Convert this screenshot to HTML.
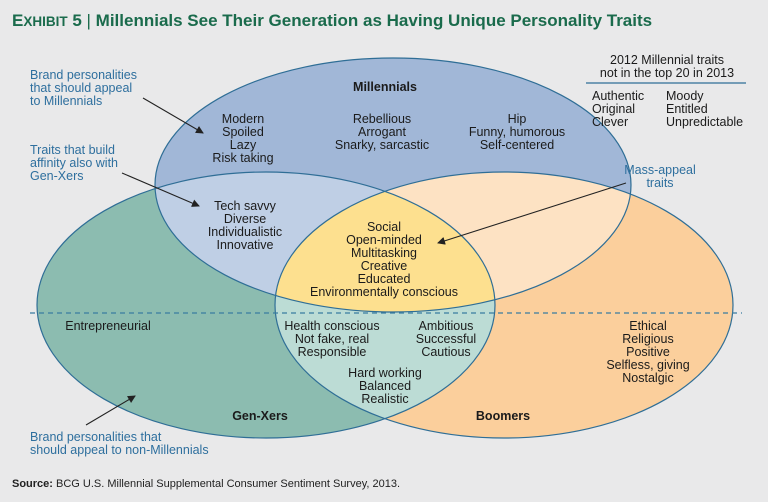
<!DOCTYPE html>
<html><head><meta charset="utf-8"><style>
body{margin:0;background:#e9e9ea;}
svg{display:block;font-family:"Liberation Sans",sans-serif;}
.t{font-size:12.5px;fill:#1b1b1b;text-anchor:middle;}
.b{font-size:12.5px;fill:#1b1b1b;font-weight:bold;text-anchor:middle;}
.c{font-size:12.5px;fill:#2e6f9e;}
</style></head><body>
<svg width="768" height="502" viewBox="0 0 768 502">
<defs>
<clipPath id="cm"><ellipse cx="393" cy="185" rx="238" ry="127"/></clipPath>
<clipPath id="cg"><ellipse cx="266" cy="305" rx="229" ry="133"/></clipPath>
<clipPath id="cb"><ellipse cx="504" cy="305" rx="229" ry="133"/></clipPath>
<marker id="ar" markerWidth="8" markerHeight="8" refX="7" refY="4" orient="auto" markerUnits="userSpaceOnUse"><path d="M0,0 L8,4 L0,8 z" fill="#222"/></marker>
</defs>
<rect width="768" height="502" fill="#e9e9ea"/>
<text x="12" y="26" font-size="17" font-weight="bold" fill="#1a6b4c"><tspan font-size="17">E</tspan><tspan font-size="13.5">XHIBIT</tspan> 5 <tspan font-weight="normal">|</tspan> Millennials See Their Generation as Having Unique Personality Traits</text>
<ellipse cx="266" cy="305" rx="229" ry="133" fill="#8cbcb0"/>
<ellipse cx="504" cy="305" rx="229" ry="133" fill="#fbcf9c"/>
<g clip-path="url(#cg)"><ellipse cx="504" cy="305" rx="229" ry="133" fill="#bcdcd5"/></g>
<ellipse cx="393" cy="185" rx="238" ry="127" fill="#a1b7d7"/>
<g clip-path="url(#cm)"><ellipse cx="266" cy="305" rx="229" ry="133" fill="#bfcfe5"/><ellipse cx="504" cy="305" rx="229" ry="133" fill="#fde2c3"/>
<g clip-path="url(#cg)"><ellipse cx="504" cy="305" rx="229" ry="133" fill="#fde08f"/></g></g>
<g fill="none" stroke="#2f6e96" stroke-width="1.2">
<ellipse cx="266" cy="305" rx="229" ry="133"/><ellipse cx="504" cy="305" rx="229" ry="133"/><ellipse cx="393" cy="185" rx="238" ry="127"/></g>
<line x1="30" y1="313" x2="742" y2="313" stroke="#3a7ca0" stroke-width="1.3" stroke-dasharray="5,4"/>
<text class="b" x="385" y="91">Millennials</text>
<text class="t"><tspan x="243" y="123">Modern</tspan><tspan x="243" y="136">Spoiled</tspan><tspan x="243" y="149">Lazy</tspan><tspan x="243" y="162">Risk taking</tspan></text>
<text class="t"><tspan x="382" y="123">Rebellious</tspan><tspan x="382" y="136">Arrogant</tspan><tspan x="382" y="149">Snarky, sarcastic</tspan></text>
<text class="t"><tspan x="517" y="123">Hip</tspan><tspan x="517" y="136">Funny, humorous</tspan><tspan x="517" y="149">Self-centered</tspan></text>
<text class="t"><tspan x="245" y="210">Tech savvy</tspan><tspan x="245" y="223">Diverse</tspan><tspan x="245" y="236">Individualistic</tspan><tspan x="245" y="249">Innovative</tspan></text>
<text class="t"><tspan x="384" y="231">Social</tspan><tspan x="384" y="244">Open-minded</tspan><tspan x="384" y="257">Multitasking</tspan><tspan x="384" y="270">Creative</tspan><tspan x="384" y="283">Educated</tspan><tspan x="384" y="296">Environmentally conscious</tspan></text>
<text class="t" x="108" y="330">Entrepreneurial</text>
<text class="t"><tspan x="332" y="330">Health conscious</tspan><tspan x="332" y="343">Not fake, real</tspan><tspan x="332" y="356">Responsible</tspan></text>
<text class="t"><tspan x="446" y="330">Ambitious</tspan><tspan x="446" y="343">Successful</tspan><tspan x="446" y="356">Cautious</tspan></text>
<text class="t"><tspan x="385" y="377">Hard working</tspan><tspan x="385" y="390">Balanced</tspan><tspan x="385" y="403">Realistic</tspan></text>
<text class="t"><tspan x="648" y="330">Ethical</tspan><tspan x="648" y="343">Religious</tspan><tspan x="648" y="356">Positive</tspan><tspan x="648" y="369">Selfless, giving</tspan><tspan x="648" y="382">Nostalgic</tspan></text>
<text class="b" x="260" y="420">Gen-Xers</text>
<text class="b" x="503" y="420">Boomers</text>
<text class="t"><tspan x="667" y="64">2012 Millennial traits</tspan><tspan x="667" y="77">not in the top 20 in 2013</tspan></text>
<line x1="586" y1="83" x2="746" y2="83" stroke="#2f6e96" stroke-width="1.2"/>
<text font-size="12.5" fill="#1b1b1b"><tspan x="592" y="100">Authentic</tspan><tspan x="592" y="113">Original</tspan><tspan x="592" y="126">Clever</tspan></text>
<text font-size="12.5" fill="#1b1b1b"><tspan x="666" y="100">Moody</tspan><tspan x="666" y="113">Entitled</tspan><tspan x="666" y="126">Unpredictable</tspan></text>
<text class="c"><tspan x="30" y="79">Brand personalities</tspan><tspan x="30" y="92">that should appeal</tspan><tspan x="30" y="105">to Millennials</tspan></text>
<text class="c"><tspan x="30" y="154">Traits that build</tspan><tspan x="30" y="167">affinity also with</tspan><tspan x="30" y="180">Gen-Xers</tspan></text>
<text class="c" text-anchor="middle"><tspan x="660" y="174">Mass-appeal</tspan><tspan x="660" y="187">traits</tspan></text>
<text class="c"><tspan x="30" y="441">Brand personalities that</tspan><tspan x="30" y="454">should appeal to non-Millennials</tspan></text>
<g stroke="#222" stroke-width="1.1">
<line x1="143" y1="98" x2="203" y2="133" marker-end="url(#ar)"/>
<line x1="122" y1="173" x2="199" y2="206" marker-end="url(#ar)"/>
<line x1="626" y1="183" x2="438" y2="243" marker-end="url(#ar)"/>
<line x1="86" y1="425" x2="135" y2="396" marker-end="url(#ar)"/>
</g>
<text x="12" y="487" font-size="11" fill="#222"><tspan font-weight="bold">Source:</tspan> BCG U.S. Millennial Supplemental Consumer Sentiment Survey, 2013.</text>
</svg>
</body></html>
